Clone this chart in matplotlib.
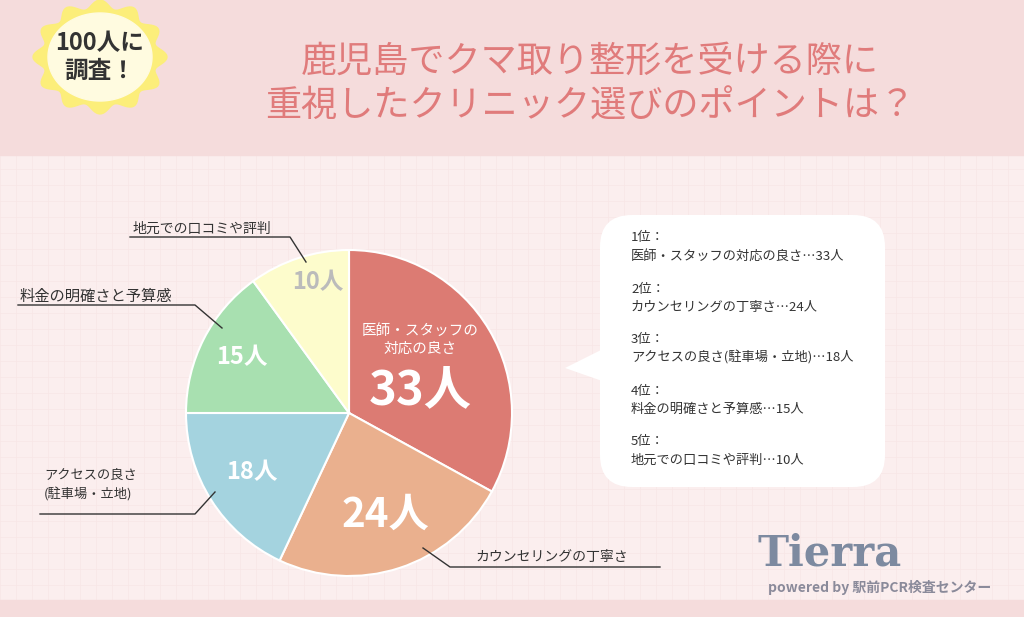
import matplotlib
matplotlib.use("Agg")
import matplotlib.pyplot as plt
import numpy as np
from matplotlib.patches import FancyBboxPatch, Polygon, Rectangle

plt.rcParams["font.family"] = "Noto Sans CJK JP"

categories = ["医師・スタッフの対応の良さ", "カウンセリングの丁寧さ", "アクセスの良さ(駐車場・立地)",
              "料金の明確さと予算感", "地元での口コミや評判"]
values = [33, 24, 18, 15, 10]
colors = ["#dc7b73", "#eab08e", "#a4d3df", "#a8e0b0", "#fdfccc"]
ranks = ["1位：", "2位：", "3位：", "4位：", "5位："]

W, H = 1024, 617
fig = plt.figure(figsize=(W/100, H/100), dpi=100)
ax = fig.add_axes([0, 0, 1, 1])
ax.set_xlim(0, W); ax.set_ylim(0, H); ax.set_aspect("equal"); ax.axis("off")
Y = lambda py: H - py

# backgrounds
ax.add_patch(Rectangle((0, 0), W, H, color="#fbeeee", zorder=0))
for gx in range(0, W, 16):
    ax.plot([gx, gx], [0, H], color="#f8e6e6", lw=0.5, zorder=0.5)
for gy in range(0, H, 16):
    ax.plot([0, W], [gy, gy], color="#f8e6e6", lw=0.5, zorder=0.5)
ax.add_patch(Rectangle((0, Y(155)), W, 155, color="#f5dcdc", zorder=1))
ax.add_patch(Rectangle((0, 0), W, 17, color="#f5dcdc", zorder=1))

# badge
t = np.linspace(0, 2*np.pi, 200)
r = 62 + 5*np.cos(12*t)
ax.add_patch(Polygon(np.c_[100 + r*np.cos(t), Y(57) + 0.85*r*np.sin(t)], color="#fcee7a", zorder=2))
ax.add_patch(Polygon(np.c_[100 + 52*np.cos(t), Y(57) + 44*np.sin(t)], color="#fffbe0", zorder=2))
ax.text(100, Y(57), "100人に\n調査！", ha="center", va="center", fontsize=17, fontweight="bold",
        color="#333333", linespacing=1.2, zorder=3)

# title
ax.text(590, Y(62), "鹿児島でクマ取り整形を受ける際に", ha="center", va="center", fontsize=26, color="#e07b7b", zorder=3)
ax.text(590, Y(107), "重視したクリニック選びのポイントは？", ha="center", va="center", fontsize=26, color="#e07b7b", zorder=3)

# pie
cx, cy, R = 349, Y(413), 163
wedges, _ = ax.pie(values, colors=colors, startangle=90, counterclock=False, center=(cx, cy),
                   radius=R, wedgeprops=dict(edgecolor="white", linewidth=1.5), frame=True)
for w in wedges:
    w.set_zorder(3)
ax.set_xlim(0, W); ax.set_ylim(0, H); ax.axis("off")

ax.text(420, Y(340), "医師・スタッフの\n対応の良さ", ha="center", va="center", fontsize=10.5, color="white", zorder=4, linespacing=1.4)
ax.text(420, Y(390), f"{values[0]}人", ha="center", va="center", fontsize=34, fontweight="bold", color="white", zorder=4)
ax.text(385, Y(515), f"{values[1]}人", ha="center", va="center", fontsize=29, fontweight="bold", color="white", zorder=4)
ax.text(252, Y(472), f"{values[2]}人", ha="center", va="center", fontsize=17, fontweight="bold", color="white", zorder=4)
ax.text(242, Y(357), f"{values[3]}人", ha="center", va="center", fontsize=17, fontweight="bold", color="white", zorder=4)
ax.text(318, Y(282), f"{values[4]}人", ha="center", va="center", fontsize=17, fontweight="bold", color="#bbbbbb", zorder=4)

# leader lines
lk = dict(color="#333333", lw=1, zorder=4)
ax.plot([130, 290, 306], [Y(237), Y(237), Y(262)], **lk)
ax.text(133, Y(229), categories[4], fontsize=10, color="#333333", va="center", zorder=4)
ax.plot([18, 195, 222], [Y(305), Y(305), Y(328)], **lk)
ax.text(20, Y(296), categories[3], fontsize=11, color="#333333", va="center", zorder=4)
ax.plot([40, 195, 215], [Y(514), Y(514), Y(492)], **lk)
ax.text(44, Y(485), "アクセスの良さ\n(駐車場・立地)", fontsize=9.5, color="#333333", va="center", zorder=4, linespacing=1.5)
ax.plot([423, 450, 660], [Y(548), Y(567), Y(567)], **lk)
ax.text(475, Y(557), categories[1], fontsize=10, color="#333333", va="center", zorder=4)

# bubble
ax.add_patch(FancyBboxPatch((600, Y(487)), 285, 272, boxstyle="round,pad=0,rounding_size=32",
                            fc="white", ec="none", zorder=3))
ax.add_patch(Polygon([[605, Y(348)], [565, Y(368)], [605, Y(382)]], fc="white", ec="none", zorder=3))
lines = [f"{categories[0]}…{values[0]}人", f"{categories[1]}…{values[1]}人", f"{categories[2]}…{values[2]}人",
         f"{categories[3]}…{values[3]}人", f"{categories[4]}…{values[4]}人"]
for i, (rk, ln) in enumerate(zip(ranks, lines)):
    y0 = 238 + i*51
    ax.text(631, Y(y0), rk, fontsize=9.5, color="#333333", va="center", zorder=4)
    ax.text(631, Y(y0 + 18), ln, fontsize=9.5, color="#333333", va="center", zorder=4)

# logo
ax.text(830, Y(553), "Tierra", ha="center", va="center", fontsize=30, fontweight="bold", family="DejaVu Serif",
        color="#7d8aa0", zorder=4)
ax.text(880, Y(587), "powered by 駅前PCR検査センター", ha="center", va="center", fontsize=10, fontweight="bold",
        color="#8a8a9a", zorder=4)

fig.savefig("out.png", dpi=100)
